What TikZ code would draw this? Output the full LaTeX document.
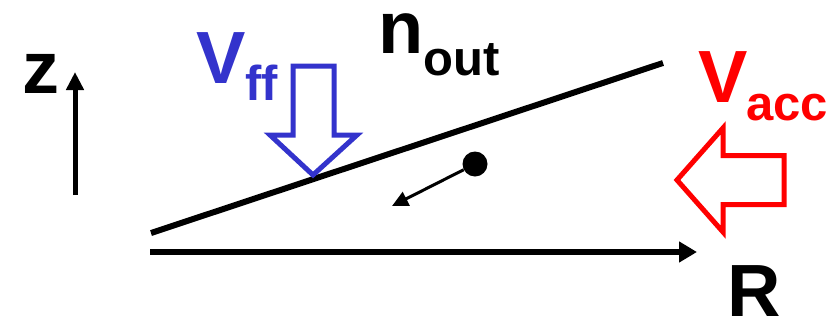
\documentclass[tikz,border=0pt]{standalone}
\usepackage{fontspec}
\setmainfont{Liberation Sans}
\usetikzlibrary{arrows.meta}
\definecolor{ffblue}{RGB}{51,51,204}
\definecolor{accred}{RGB}{255,0,0}
\newcommand{\bigtxt}{\fontsize{74}{78}\selectfont\bfseries}
\newcommand{\subtxt}{\fontsize{49}{52}\selectfont\bfseries}
\tikzset{
  lbl/.style={inner sep=0pt, outer sep=0pt, anchor=base west},
  thickline/.style={line width=6pt, black},
  outlinearrow/.style={line width=5pt, miter limit=20, line join=miter, fill=white},
}
\begin{document}
\begin{tikzpicture}[x=1pt, y=-1pt]
\useasboundingbox (0,0) rectangle (831,322);
% z axis
\coordinate (zb) at (75,195);
\coordinate (zt) at (75,72);
\draw[line width=5pt, -{Triangle[length=18pt,width=17pt]}] (zb) -- (zt);
\node[lbl] (zl) at (22,93) {\bigtxt z};
% R axis
\coordinate (rs) at (150,252);
\coordinate (re) at (697,252);
\draw[thickline, -{Triangle[length=18pt,width=20pt]}] (rs) -- (re);
\node[lbl] (rl) at (727,316) {\bigtxt R};
% surface line
\coordinate (ss) at (151,233);
\coordinate (se) at (663,63);
\draw[thickline] (ss) -- (se);
% n_out
\node[lbl] (nl) at (378,53) {\bigtxt n\raisebox{-22pt}{\subtxt out}};
% V_ff
\node[lbl, text=ffblue] (vff) at (196,83) {\bigtxt V\raisebox{-17pt}{\subtxt ff}};
\draw[ffblue, outlinearrow] (293,66) -- (334,66) -- (334,135) -- (357,135) -- (313,175) -- (270,135) -- (293,135) -- cycle;
% V_acc
\node[lbl, text=accred] (vacc) at (698,102) {\bigtxt V\kern-1pt\raisebox{-18pt}{\subtxt acc}};
\draw[accred, outlinearrow] (784,155.5) -- (784,204.5) -- (723,204.5) -- (723,232) -- (677,180) -- (723,128) -- (723,155.5) -- cycle;
% particle
\node[circle, fill=black, minimum size=25pt, inner sep=0pt] (dot) at (475,164) {};
\coordinate (pt) at (392,206);
\draw[line width=3pt, -{Triangle[length=16pt,width=15pt]}] (dot) -- (pt);
\end{tikzpicture}
\end{document}
